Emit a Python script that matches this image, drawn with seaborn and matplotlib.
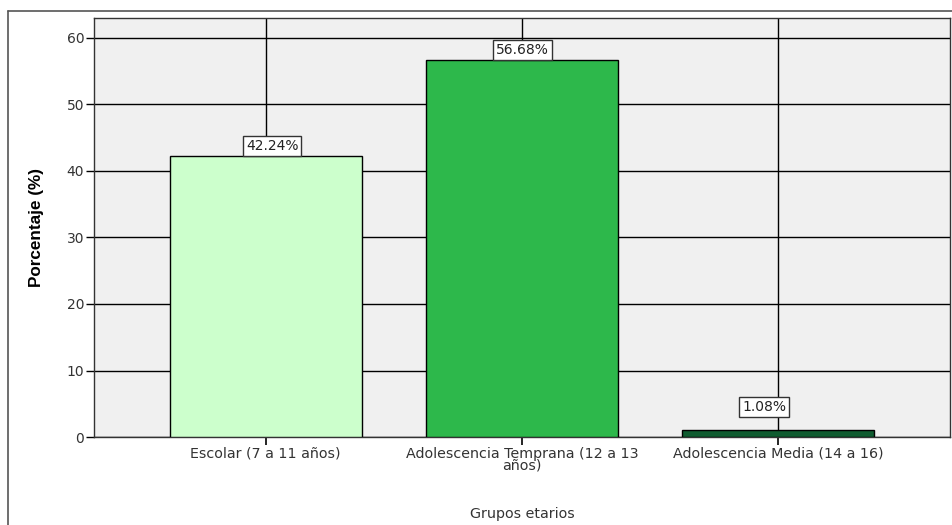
import matplotlib
matplotlib.use("Agg")
import matplotlib.pyplot as plt
from matplotlib.lines import Line2D
import seaborn as sns
import pandas as pd

# Age groups and their share of the sample (%)
categories = ["Escolar (7 a 11 años)",
              "Adolescencia Temprana (12 a 13\naños)",
              "Adolescencia Media (14 a 16)"]
percentages = [42.24, 56.68, 1.08]
bar_colors = ["#CCFFCC", "#2DB84B", "#0F5C30"]
y_ticks = [0, 10, 20, 30, 40, 50, 60]

df = pd.DataFrame({"grupo": categories, "pct": percentages})

sns.set_theme(style="white")
plt.rcParams["font.family"] = ["DejaVu Sans"]

fig = plt.figure(figsize=(9.52, 5.25), dpi=100)
ax = fig.add_axes([0.0987, 0.1676, 0.8993, 0.7981])
ax.set_facecolor("#F0F0F0")

sns.barplot(data=df, x="grupo", y="pct", hue="grupo", palette=bar_colors,
            legend=False, width=0.75, edgecolor="black", linewidth=1.0,
            saturation=1, ax=ax, zorder=3)

ax.set_xlim(-0.67, 2.67)
ax.set_ylim(0, 63)
ax.set_yticks(y_ticks)
ax.set_yticklabels([str(t) for t in y_ticks])

# black reference grid behind the bars
ax.grid(True, axis="both", color="black", linewidth=1.0, zorder=0)
ax.set_axisbelow(True)

for s in ax.spines.values():
    s.set_color("#333333")
    s.set_linewidth(1.0)
    s.set_visible(True)

ax.tick_params(axis="y", which="both", left=True, length=6, width=1,
               color="black", labelsize=10, labelcolor="#333333", pad=1)
ax.tick_params(axis="x", which="both", bottom=True, length=6, width=1.2,
               color="black", labelsize=10.3, labelcolor="#333333", pad=1)
for lbl in ax.get_xticklabels():
    lbl.set_linespacing(0.8)

ax.set_xlabel("Grupos etarios", fontsize=10.3, color="#333333", labelpad=25)
ax.set_ylabel("Porcentaje (%)", fontsize=12.3, fontweight="bold",
              family=["Liberation Sans", "DejaVu Sans"],
              color="black", labelpad=16)

# value labels in white boxes above each bar
label_dx = [0.025, 0.0, -0.055]
for i, v in enumerate(percentages):
    ax.text(i + label_dx[i], max(v, 3) + 1.5, f"{v:.2f}%", ha="center",
            va="center", fontsize=10, color="#222222", zorder=5,
            bbox=dict(boxstyle="square,pad=0.22", facecolor="white",
                      edgecolor="#333333", linewidth=1.0))

# outer chart frame
fig.add_artist(Line2D([8 / 952, 8 / 952], [0, 1 - 11 / 525],
                      transform=fig.transFigure, color="#555555", lw=1.2))
fig.add_artist(Line2D([8 / 952, 1], [1 - 11 / 525, 1 - 11 / 525],
                      transform=fig.transFigure, color="#555555", lw=1.2))

fig.savefig("out.png", dpi=100)
